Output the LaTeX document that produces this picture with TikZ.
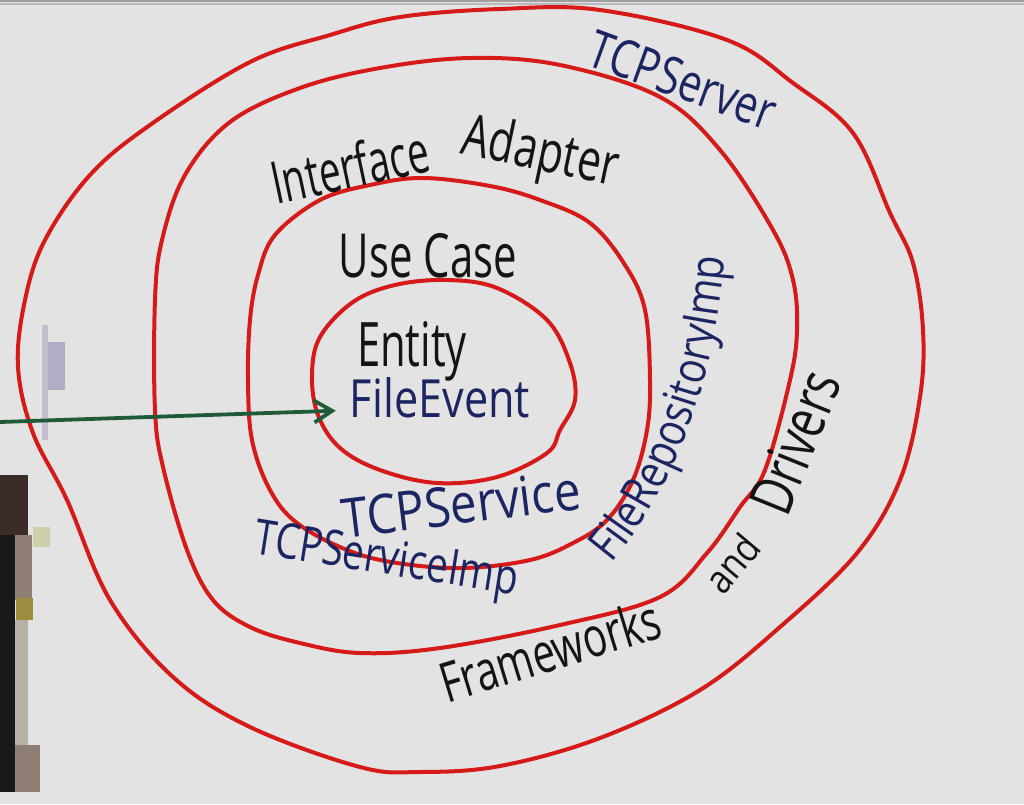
\documentclass[tikz,border=0pt]{standalone}
\usepackage{fontspec}
\setmainfont{Open Sans}
\newfontfamily\narrowhand[FakeStretch=0.84]{Open Sans}
\usetikzlibrary{arrows.meta,calc,decorations.text}
\definecolor{board}{HTML}{E3E3E3}
\definecolor{ringred}{HTML}{D61A1A}
\definecolor{inkblack}{HTML}{141414}
\definecolor{inknavy}{HTML}{1C2461}
\definecolor{inkgreen}{HTML}{1F5B38}
\definecolor{stripgray}{HTML}{C2BECB}
\definecolor{blobpurple}{HTML}{B2ACC4}
\definecolor{objdark}{HTML}{3B2C29}
\definecolor{objtan}{HTML}{8E7E74}
\definecolor{objyellow}{HTML}{9C8C3E}
\definecolor{objlight}{HTML}{B9B0A6}
\definecolor{objpale}{HTML}{CFCFAE}
\newcommand\handtxt[3]{\resizebox{#1pt}{#2pt}{#3}}
\tikzset{
  ring/.style={draw=ringred, line width=4pt, line join=round},
  lbl/.style={inner sep=0pt, text=inkblack},
  nlbl/.style={inner sep=0pt, text=inknavy},
  arr/.style={draw=inkgreen, line width=3.8pt, line cap=round, -{Straight Barb[length=18pt,width=22pt,line width=3.8pt]}}
}
\begin{document}
\begin{tikzpicture}[x=1pt,y=-1pt]
\useasboundingbox (0,0) rectangle (1024,804);
\fill[board] (0,0) rectangle (1024,804);
\fill[gray!75] (0,0) rectangle (1024,2);
\fill[gray!55] (0,3) rectangle (1024,5);
% left-edge objects
\fill[stripgray] (42,325) rectangle (48,440);
\fill[blobpurple] (48,342) rectangle (65,390);
\fill[black!90] (0,478) rectangle (15,792);
\fill[objdark] (0,475) rectangle (28,535);
\fill[objtan] (15,535) rectangle (32,600);
\fill[objyellow] (16,598) rectangle (33,620);
\fill[objlight] (15,620) rectangle (28,750);
\fill[objtan] (15,745) rectangle (40,792);
\fill[objpale] (33,527) rectangle (50,547);
% rings
\draw[ring] plot[smooth cycle, tension=0.6] coordinates {
 (600,10) (727,40) (793,83) (853,133) (890,213) (913,263) (923,330) (920,397)
 (900,480) (857,553) (780,627) (700,690) (600,738) (500,766) (420,772) (360,767)
 (250,727) (173,677) (110,600) (67,500) (33,433) (18,367) (25,300) (45,240)
 (90,175) (150,125) (250,62) (330,35) (400,17) (500,9)};
\draw[ring] plot[smooth cycle, tension=0.6] coordinates {
 (560,65) (660,97) (720,150) (773,230) (793,280) (797,330) (790,380) (765,470)
 (740,507) (707,553) (660,597) (560,625) (440,648) (360,653) (300,643) (250,627)
 (213,600) (187,550) (163,467) (155,410) (155,300) (162,240) (185,175) (230,122)
 (300,88) (380,68) (470,58)};
\draw[ring] plot[smooth cycle, tension=0.6] coordinates {
 (423,178) (490,186) (540,200) (590,223) (625,265) (645,310) (650,380) (647,430)
 (633,480) (607,520) (573,543) (530,560) (463,568) (397,563) (347,550) (297,523)
 (270,490) (252,440) (248,380) (250,320) (258,275) (275,235) (320,200) (370,185)};
\draw[ring] plot[smooth cycle, tension=0.6] coordinates {
 (447,280) (497,288) (547,320) (570,363) (575,400) (560,430) (547,453) (497,477)
 (437,483) (380,470) (340,448) (318,415) (312,375) (320,337) (353,302) (395,285)};
% labels
\node[nlbl, rotate=-20] (srv) at (683,80) {\handtxt{195}{38}{TCPServer}};
\node[lbl, rotate=12] (ia1) at (350,166) {\handtxt{160}{45}{Interface}};
\node[lbl, rotate=-12] (ia2) at (540,155) {\handtxt{158}{44}{Adapter}};
\node[lbl, anchor=base] (uc) at (428,277) {\handtxt{178}{44}{Use Case}};
\node[lbl, anchor=base] (ent) at (412,366) {\handtxt{110}{45}{Entity}};
\node[nlbl, anchor=base] (fe) at (440,417) {\handtxt{180}{40}{FileEvent}};
\node[nlbl, rotate=7] (tsv) at (461,504) {\handtxt{240}{40}{TCPService}};
\node[nlbl, rotate=-9] (tsi) at (386,562) {\handtxt{266}{36}{TCPServiceImp}};
\coordinate (frs) at (602,574);
\coordinate (frc1) at (662,508);
\coordinate (frc2) at (716,400);
\coordinate (fre) at (726,243);
\path[decorate, decoration={text along path, text align=center, text color=inknavy,
  text={|\narrowhand\fontsize{47pt}{47pt}\selectfont|FileRepositoryImp}}]
  (frs) .. controls (frc1) and (frc2) .. (fre);
\node[lbl, rotate=17] (fw1) at (550,650) {\handtxt{228}{42}{Frameworks}};
\node[lbl, rotate=50] (fw2) at (732,563) {\handtxt{62}{30}{and}};
\node[lbl, rotate=68] (fw3) at (795,442) {\handtxt{148}{44}{Drivers}};
% arrow
\coordinate (astart) at (0,422);
\draw[arr, shorten >=14pt] (astart) -- ([yshift=-13pt]fe.west);
\end{tikzpicture}
\end{document}
